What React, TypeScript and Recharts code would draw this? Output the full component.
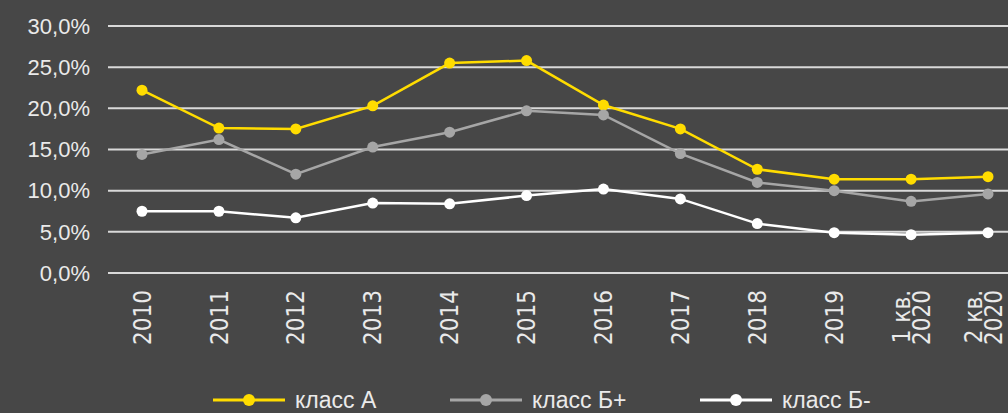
import React from 'react';
import { LineChart, Line, XAxis, YAxis, CartesianGrid, Legend } from 'recharts';

const categories = ['2010', '2011', '2012', '2013', '2014', '2015', '2016', '2017', '2018', '2019', '1 кв.\n2020', '2 кв.\n2020'];
const classA = [22.2, 17.6, 17.5, 20.3, 25.5, 25.8, 20.4, 17.5, 12.6, 11.4, 11.4, 11.7];
const classBPlus = [14.4, 16.2, 12.0, 15.3, 17.1, 19.7, 19.2, 14.5, 11.0, 10.0, 8.7, 9.6];
const classBMinus = [7.5, 7.5, 6.7, 8.5, 8.4, 9.4, 10.2, 9.0, 6.0, 4.9, 4.65, 4.9];
const yTicks = [0, 5, 10, 15, 20, 25, 30];
const seriesNames = ['класс А', 'класс Б+', 'класс Б-'];
const legendLeft = [213, 450, 700];

const COLORS = ['#FFDC00', '#A6A6A6', '#FFFFFF'];
const TEXT = '#EAEAEA';
const FONT = '"Liberation Sans", Arial, sans-serif';
const NARROW = '"Liberation Sans Narrow", "Arial Narrow", "DejaVu Sans Condensed", sans-serif';

const data = categories.map((c, i) => ({
  cat: c,
  a: classA[i],
  bp: classBPlus[i],
  bm: classBMinus[i],
}));

const XTick = (props: any) => {
  const { x, y, payload, index } = props;
  const lines = String(payload.value).split('\n');
  const lineGap = 20;
  const shift = index === categories.length - 1 ? -5 : 0;
  const start = -((lines.length - 1) * lineGap) / 2 + shift;
  return (
    <g transform={`translate(${x},${y})`}>
      <text transform="rotate(-90)" textAnchor="end" fill={TEXT} fontSize={24} fontFamily={NARROW}>
        {lines.map((l, i) => (
          <tspan key={i} x={-9} y={start + i * lineGap} dy="0.36em">
            {l}
          </tspan>
        ))}
      </text>
    </g>
  );
};

const fmt = (v: number) => `${v.toFixed(1).replace('.', ',')}%`;

const LegendContent = () => (
  <div style={{ position: 'relative', height: 20, width: 1008, fontFamily: FONT }}>
    {seriesNames.map((n, i) => (
      <div key={n} style={{ position: 'absolute', left: legendLeft[i], top: 0, display: 'flex', alignItems: 'center', height: 20 }}>
        <svg width={72} height={14}>
          <line x1={0} y1={7} x2={72} y2={7} stroke={COLORS[i]} strokeWidth={3} />
          <circle cx={36} cy={7} r={6} fill={COLORS[i]} />
        </svg>
        <span style={{ color: TEXT, fontSize: 23, marginLeft: 10, lineHeight: '20px', whiteSpace: 'nowrap' }}>{n}</span>
      </div>
    ))}
  </div>
);

export default function App() {
  return (
    <div style={{ position: 'absolute', left: 0, top: 0, width: 1008, height: 413, background: '#474747', overflow: 'hidden' }}>
      <LineChart width={1008} height={413} data={data} margin={{ top: 26, right: 0, left: 0, bottom: 0 }}>
        <CartesianGrid horizontal vertical={false} stroke="#D9D9D9" strokeWidth={2} />
        <XAxis
          dataKey="cat"
          interval={0}
          height={140}
          axisLine={false}
          tickLine={false}
          tick={<XTick />}
          padding={{ left: 34, right: 20 }}
        />
        <YAxis
          width={108}
          domain={[0, 30]}
          ticks={yTicks}
          axisLine={false}
          tickLine={false}
          tickSize={0}
          tickMargin={18}
          tickFormatter={fmt}
          tick={{ fill: TEXT, fontSize: 22, fontFamily: FONT }}
        />
        <Legend verticalAlign="middle" align="center" layout="horizontal" wrapperStyle={{ top: 390, left: 0, width: 1008 }} content={<LegendContent />} />
        <Line dataKey="a" name={seriesNames[0]} stroke={COLORS[0]} strokeWidth={2.5} dot={{ r: 5.5, fill: COLORS[0], stroke: COLORS[0], strokeWidth: 0 }} isAnimationActive={false} />
        <Line dataKey="bp" name={seriesNames[1]} stroke={COLORS[1]} strokeWidth={2.5} dot={{ r: 5.5, fill: COLORS[1], stroke: COLORS[1], strokeWidth: 0 }} isAnimationActive={false} />
        <Line dataKey="bm" name={seriesNames[2]} stroke={COLORS[2]} strokeWidth={2.5} dot={{ r: 5.5, fill: COLORS[2], stroke: COLORS[2], strokeWidth: 0 }} isAnimationActive={false} />
      </LineChart>
    </div>
  );
}
